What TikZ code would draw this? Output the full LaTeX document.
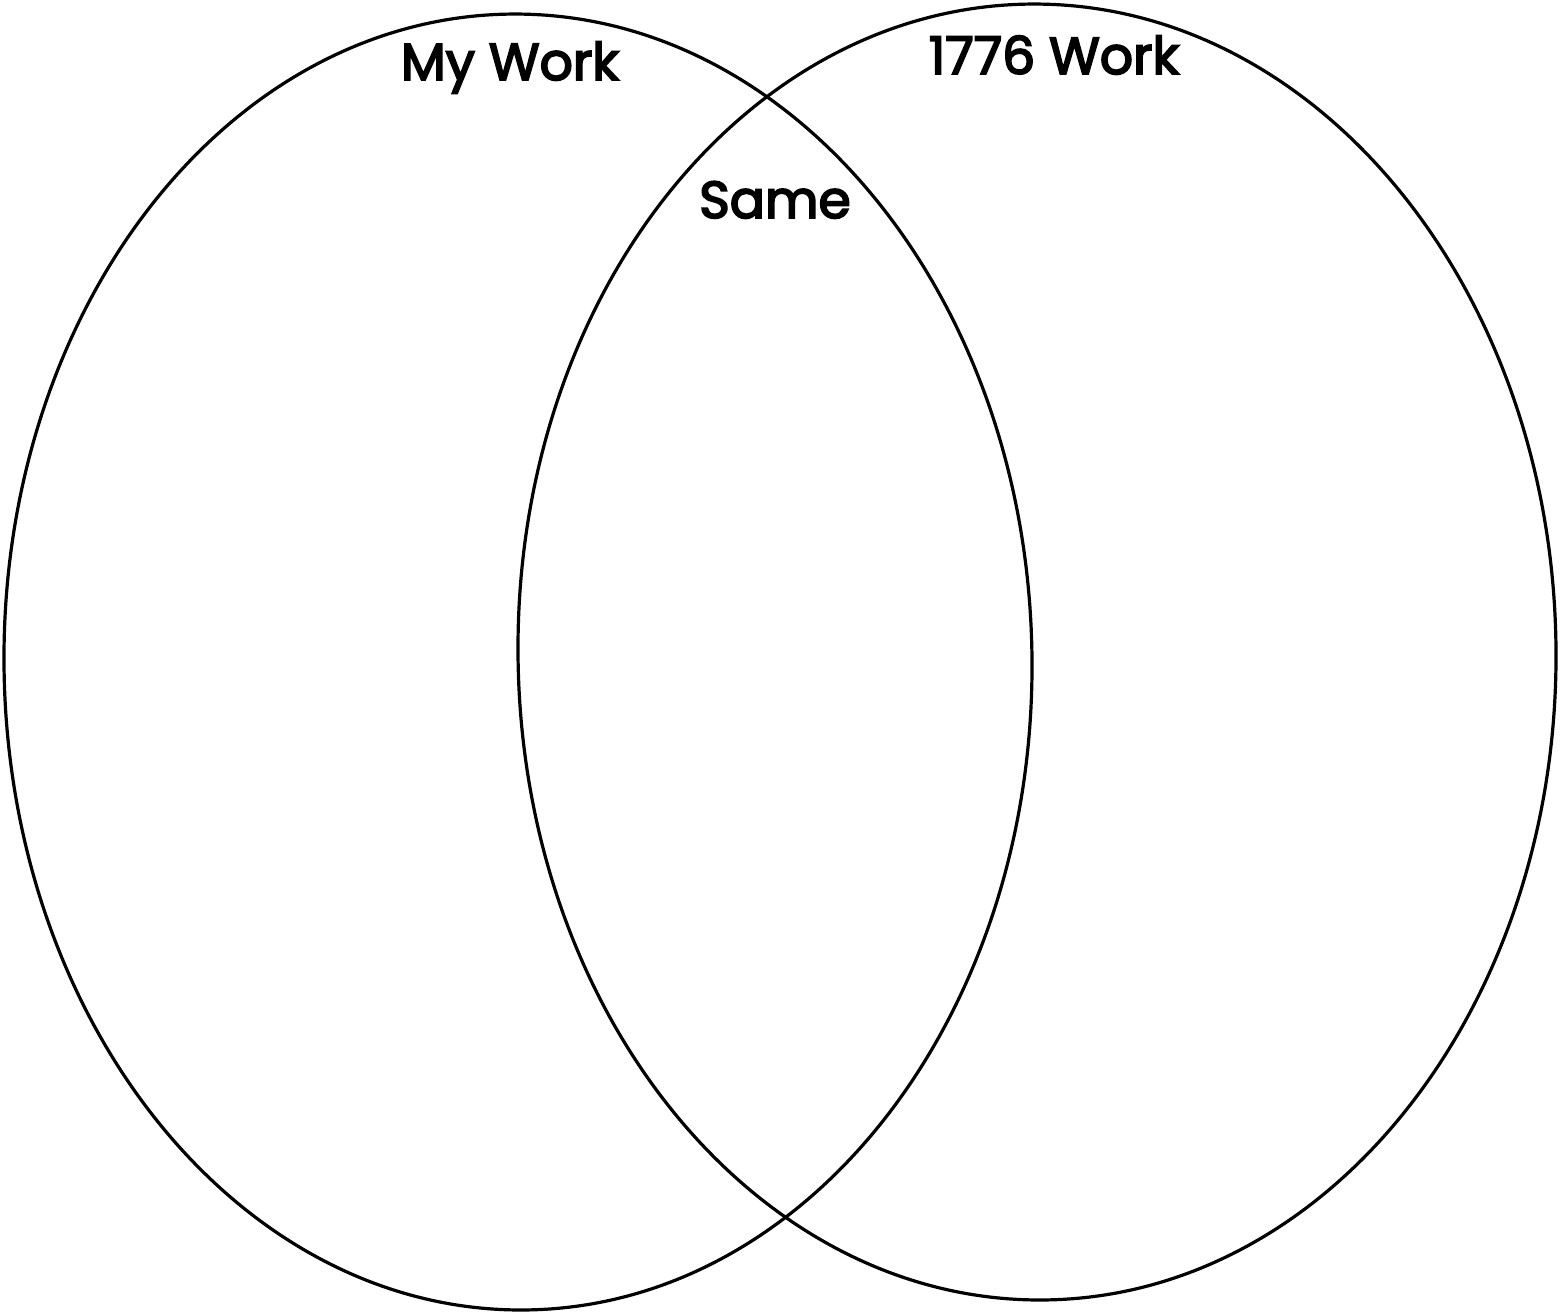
\documentclass[tikz,border=0pt]{standalone}
\usepackage{fontspec}
\newfontfamily\lblfont{Poppins}[FakeBold=3.5]
\tikzset{
  ring/.style={draw=black, line width=1.6pt},
  lbl/.style={font=\fontsize{26}{30}\lblfont, anchor=base, inner sep=0pt}
}
\begin{document}
\begin{tikzpicture}[x=0.5pt, y=-0.5pt]
\useasboundingbox (0,0) rectangle (1561,1314);
\fill[white] (0,0) rectangle (1561,1314);
\clip (0,0) rectangle (1561,1314);
\draw[ring, rotate around={0.7:(518,662)}] (518,662) ellipse [x radius=514, y radius=648];
\draw[ring, rotate around={0.7:(1037,652)}] (1037,652) ellipse [x radius=519, y radius=648];
\node[lbl] (mywork) at (510,80) {My Work};
\node[lbl] (work1776) at (1054,74) {1776 Work};
\node[lbl] (same) at (775,218) {Same};
\end{tikzpicture}
\end{document}
